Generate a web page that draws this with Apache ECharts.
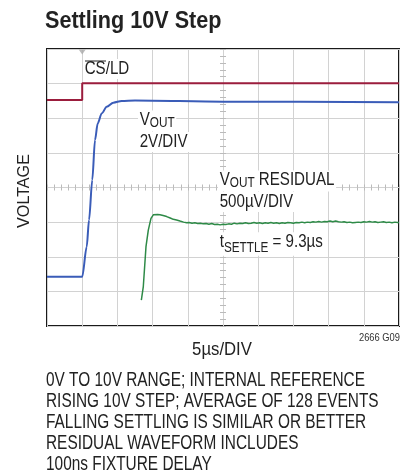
<!DOCTYPE html>
<html>
<head>
<meta charset="utf-8">
<script src="https://cdn.jsdelivr.net/npm/echarts@6/dist/echarts.min.js"></script>
<style>
  html, body { margin: 0; padding: 0; background: #fff; }
  #chart { width: 410px; height: 471px; }
</style>
</head>
<body>
<div id="chart"></div>
<script>
// time in us (5us/div, 10 div), level in scope divisions (8 div)
var csld = [[0, 6.53], [5.0, 6.53], [5.0, 7.01], [50, 7.01]];
var vout = [
  [0, 1.42], [5.0, 1.42], [5.64, 2.29], [5.97, 3.06], [6.43, 4.22], [6.82, 5.37],
  [7.2, 5.85], [7.77, 6.14], [8.48, 6.33], [9.42, 6.45], [10.61, 6.5], [12.5, 6.51],
  [25, 6.48], [50, 6.46]
];
var residual = [
  [13.4, 0.75], [13.68, 1.14], [14.06, 2.29], [14.39, 2.77], [14.77, 3.11], [15.1, 3.21],
  [15.34, 3.23], [15.7, 3.22], [16.05, 3.21], [16.5, 3.19], [17.0, 3.16], [17.5, 3.12],
  [17.94, 3.08], [18.4, 3.06], [18.89, 3.03], [19.4, 3.0], [19.84, 2.98],
  [20.2, 2.99], [20.6, 2.97], [21.0, 2.98], [21.4, 2.96], [21.8, 2.97], [22.2, 2.95],
  [22.6, 2.96], [23.0, 2.94], [23.4, 2.96], [23.8, 2.93], [24.2, 2.94], [24.6, 2.92],
  [25.0, 2.94], [25.4, 2.93], [25.8, 2.95], [26.2, 2.94], [26.6, 2.97], [27.0, 2.95],
  [27.4, 2.97], [27.8, 2.96], [28.2, 2.98], [28.6, 2.96], [29.0, 2.97], [29.4, 2.99],
  [29.8, 2.97], [30.2, 2.98], [30.6, 2.96], [31.0, 2.98], [31.4, 2.97], [31.8, 2.99],
  [32.2, 2.97], [32.6, 2.98], [33.0, 2.96], [33.4, 2.98], [33.8, 2.97], [34.2, 2.99],
  [34.6, 2.98], [35.0, 2.97], [35.4, 2.99], [35.8, 2.98], [36.2, 3.0], [36.6, 2.98],
  [37.0, 3.0], [37.4, 2.99], [37.8, 3.01], [38.2, 3.0], [38.6, 3.02], [39.0, 3.0],
  [39.4, 3.02], [39.8, 3.01], [40.2, 3.03], [40.6, 3.01], [41.0, 3.03], [41.4, 3.01],
  [41.8, 3.0], [42.2, 3.01], [42.6, 2.99], [43.0, 3.0], [43.4, 2.98], [43.8, 2.99],
  [44.2, 3.0], [44.6, 2.99], [45.0, 3.01], [45.4, 3.0], [45.8, 3.02], [46.2, 3.0],
  [46.6, 3.01], [47.0, 2.99], [47.4, 3.0], [47.8, 3.01], [48.2, 2.99], [48.6, 3.0],
  [49.0, 2.98], [49.4, 3.0], [49.8, 2.99], [50.0, 2.99]
];
var trigger = [[5, 8]];
var notes = [
  '0V TO 10V RANGE; INTERNAL REFERENCE',
  'RISING 10V STEP; AVERAGE OF 128 EVENTS',
  'FALLING SETTLING IS SIMILAR OR BETTER',
  'RESIDUAL WAVEFORM INCLUDES',
  '100ns FIXTURE DELAY'
];

// no condensed face installed, so squeeze Liberation Sans with scaleX
var FONT = '"Liberation Sans", Arial, sans-serif';
var NARROW = 0.84;
var gridColor = '#d2d2d2';

var myChart = echarts.init(document.getElementById('chart'), null, { renderer: 'canvas' });

function centerX(inside) {
  return {
    type: 'value', min: 0, max: 50, interval: 5, position: 'bottom', offset: -138.5,
    axisLine: { show: false },
    axisTick: { show: true, inside: inside, length: 3, lineStyle: { color: '#bbb' } },
    minorTick: { show: true, splitNumber: 5, length: 3, lineStyle: { color: '#bbb' } },
    axisLabel: { show: false }, splitLine: { show: false }
  };
}
function centerY(inside) {
  return {
    type: 'value', min: 0, max: 8, interval: 1, position: 'left', offset: -176,
    axisLine: { show: false },
    axisTick: { show: true, inside: inside, length: 3, lineStyle: { color: '#bbb' } },
    minorTick: { show: true, splitNumber: 5, length: 3, lineStyle: { color: '#bbb' } },
    axisLabel: { show: false }, splitLine: { show: false }
  };
}

var sub = {
  a: { font: '18px ' + FONT, fill: '#222', verticalAlign: 'bottom', padding: [0, 0, 1, 0] },
  b: { font: '14px ' + FONT, fill: '#222', verticalAlign: 'bottom' }
};

function label(x, y, text, extra) {
  var st = {
    text: text, fill: '#222', font: '18px ' + FONT,
    align: 'left', verticalAlign: 'middle',
    backgroundColor: '#fff', padding: [1, 2, 1, 2]
  };
  for (var k in extra) st[k] = extra[k];
  return { type: 'text', x: x, y: y, z: 100, scaleX: NARROW, style: st };
}

var option = {
  animation: false,
  grid: {
    left: 47, top: 49, width: 352, height: 277,
    show: true, borderColor: '#1a1a1a', borderWidth: 2, backgroundColor: 'transparent'
  },
  xAxis: [
    {
      type: 'value', min: 0, max: 50, interval: 5,
      axisLine: { show: false }, axisTick: { show: false }, axisLabel: { show: false },
      splitLine: { show: true, lineStyle: { color: gridColor, width: 1 } }
    },
    centerX(false), centerX(true)
  ],
  yAxis: [
    {
      type: 'value', min: 0, max: 8, interval: 1,
      axisLine: { show: false }, axisTick: { show: false }, axisLabel: { show: false },
      splitLine: { show: true, lineStyle: { color: gridColor, width: 1 } }
    },
    centerY(false), centerY(true)
  ],
  series: [
    {
      name: 'CS/LD', type: 'line', data: csld, symbol: 'none',
      lineStyle: { color: '#9b1d3d', width: 2 }, z: 3
    },
    {
      name: 'VOUT', type: 'line', data: vout, symbol: 'none',
      smooth: 0.3, smoothMonotone: 'x',
      lineStyle: { color: '#3a5cb8', width: 2 }, z: 3
    },
    {
      name: 'VOUT RESIDUAL', type: 'line', data: residual, symbol: 'none',
      lineStyle: { color: '#2e8a47', width: 1.5 }, z: 3
    },
    {
      type: 'scatter', data: trigger, symbol: 'triangle', symbolRotate: 180,
      symbolSize: [7, 5], symbolOffset: [0, 3], itemStyle: { color: '#aaa' }, z: 2
    }
  ],
  graphic: [
    {
      type: 'text', x: 45, y: 21, scaleX: 0.9,
      style: { text: 'Settling 10V Step', fill: '#222', font: 'bold 24px ' + FONT, verticalAlign: 'middle' }
    },
    label(83, 69, 'CS/LD'),
    { type: 'line', z: 101, shape: { x1: 85, y1: 61, x2: 106, y2: 61 }, style: { stroke: '#222', lineWidth: 1 } },
    label(138, 121, '{a|V}{b|OUT}', { rich: sub }),
    label(138, 142, '2V/DIV'),
    label(218, 181, '{a|V}{b|OUT}{a| RESIDUAL}', { rich: sub }),
    label(218, 202, '500\u00b5V/DIV'),
    label(218, 244, '{a|t}{b|SETTLE}{a| = 9.3\u00b5s}', {
      rich: {
        a: { font: '18px ' + FONT, fill: '#222', verticalAlign: 'bottom', padding: [0, 0, 3.5, 0] },
        b: { font: '14px ' + FONT, fill: '#222', verticalAlign: 'bottom' }
      }
    }),
    {
      type: 'text', x: 24, y: 191, rotation: Math.PI / 2, scaleX: 0.95,
      style: { text: 'VOLTAGE', fill: '#222', font: '17px ' + FONT, align: 'center', verticalAlign: 'middle' }
    },
    {
      type: 'text', x: 222, y: 350, scaleX: 0.88,
      style: { text: '5\u00b5s/DIV', fill: '#222', font: '19px ' + FONT, align: 'center', verticalAlign: 'middle' }
    },
    {
      type: 'text', x: 400, y: 338, scaleX: 0.85,
      style: { text: '2666 G09', fill: '#333', font: '11px ' + FONT, align: 'right', verticalAlign: 'middle' }
    },
    {
      type: 'text', x: 46, y: 370, scaleX: 0.77,
      style: { text: notes.join('\n'), fill: '#222', font: '20px ' + FONT, lineHeight: 21, align: 'left', verticalAlign: 'top' }
    }
  ]
};
myChart.setOption(option);
</script>
</body>
</html>
